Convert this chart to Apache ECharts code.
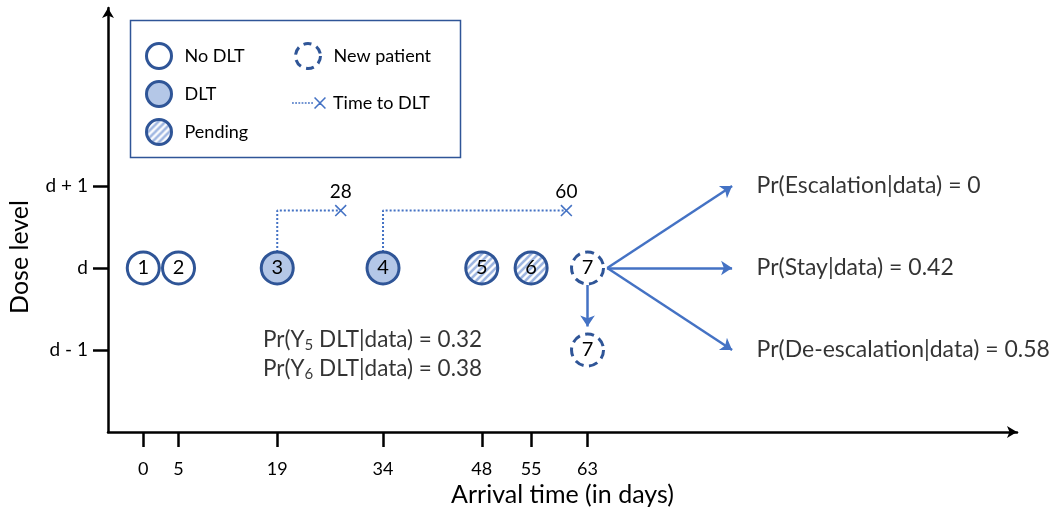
<!DOCTYPE html>
<html><head><meta charset="utf-8">
<script src="https://cdn.jsdelivr.net/npm/echarts@6/dist/echarts.min.js"></script>
<style>html,body{margin:0;padding:0;background:#fff}#c{width:1058px;height:514px}</style>
</head><body><div id="c"></div><script>
// ---- data ----
const patientIds = ['1', '2', '3', '4', '5', '6', '7'];
const arrivalDays = [0, 5, 19, 34, 48, 55, 63];
const patientStatus = ['No DLT', 'No DLT', 'DLT', 'DLT', 'Pending', 'Pending', 'New patient'];
const currentDose = 0;      // level "d"
const newPatientDose = -1;  // level "d - 1"
const dltPatientIdx = [2, 3];
const dltDays = [28, 60];
const doseTickValues = [-1, 0, 1];
const doseTickLabels = ['d - 1', 'd', 'd + 1'];
const arrivalTicks = [0, 5, 19, 34, 48, 55, 63];
const pendingPatients = ['5', '6'];
const pendingProbs = [0.32, 0.38];
const decisionNames = ['Escalation', 'Stay', 'De-escalation'];
const decisionProbs = [0, 0.42, 0.58];
const decisionDose = [1, 0, -1];

// ---- styles ----
const FONT = 'Lato';
const DARK = '#2F5597';
const BLUE = '#4472C4';
const CIRCLE = 32;
// diagonal stripe pattern for "Pending"
const stripe = document.createElement('canvas');
stripe.width = 7; stripe.height = 7;
(function () {
  const g = stripe.getContext('2d');
  g.fillStyle = '#fff'; g.fillRect(0, 0, 7, 7);
  g.strokeStyle = '#9DB5E1'; g.lineWidth = 2.6;
  [-7, 0, 7].forEach(o => { g.beginPath(); g.moveTo(-1 + o, 8); g.lineTo(8 + o, -1); g.stroke(); });
})();
// scatter symbols are drawn at unit size and scaled by symbolSize/2, so counter-scale the pattern
const symScale = 2 / CIRCLE;
const base = { borderColor: DARK, borderWidth: 3, opacity: 1 };
const statusStyle = {
  'No DLT': Object.assign({}, base, { color: '#fff' }),
  'DLT': Object.assign({}, base, { color: '#B4C7E7' }),
  'Pending': Object.assign({}, base, { color: { image: stripe, repeat: 'repeat', scaleX: symScale, scaleY: symScale } }),
  'New patient': Object.assign({}, base, { color: '#fff', borderType: [9, 5.5] })
};
const xPolys = (x0, s) => {
  const t = 1.1;
  const P = (a, b) => (x0 + a).toFixed(2) + ',' + b.toFixed(2);
  return 'M' + P(0, t) + 'L' + P(t, 0) + 'L' + P(s, s - t) + 'L' + P(s - t, s) + 'Z' +
         'M' + P(s - t, 0) + 'L' + P(s, t) + 'L' + P(t, s) + 'L' + P(0, s - t) + 'Z';
};
const X_SYMBOL = 'path://' + xPolys(0, 12);
let legendLinePath = '';
for (let x = 0; x < 21; x += 3.2) {
  legendLinePath += 'M' + x.toFixed(1) + ',5.2L' + (x + 1.8).toFixed(1) + ',5.2L' + (x + 1.8).toFixed(1) + ',6.8L' + x.toFixed(1) + ',6.8Z';
}
legendLinePath += xPolys(22, 12);

const series = [];
// time to DLT dotted connectors
dltPatientIdx.forEach((pi, k) => {
  const h = 0.7;
  series.push({
    type: 'line', name: 'Time to DLT', z: 1, symbol: 'none', silent: true,
    lineStyle: { color: BLUE, width: 2, type: [2, 2] },
    itemStyle: { color: BLUE, borderWidth: 0 },
    data: [
      [arrivalDays[pi], currentDose],
      [arrivalDays[pi], h],
      { value: [dltDays[k], h], symbol: X_SYMBOL, symbolSize: 12,
        label: { show: true, position: 'top', distance: 3, formatter: String(dltDays[k]),
                 fontSize: 19, color: '#000', fontFamily: FONT } }
    ]
  });
});
// patient circles
['No DLT', 'DLT', 'Pending', 'New patient'].forEach(s => {
  const data = [];
  patientIds.forEach((id, i) => { if (patientStatus[i] === s) data.push([arrivalDays[i], currentDose, id]); });
  if (s === 'New patient') data.push([arrivalDays[6], newPatientDose, patientIds[6]]);
  series.push({
    type: 'scatter', name: s, z: 5, symbol: 'circle', symbolSize: CIRCLE, silent: true,
    itemStyle: statusStyle[s],
    label: { show: true, position: 'inside', formatter: p => p.value[2], fontSize: 20, color: '#000', fontFamily: FONT },
    data: data
  });
});
// decision arrows
const arrowFrom = [65.8, currentDose];
series.push({
  type: 'lines', coordinateSystem: 'cartesian2d', z: 4, silent: true,
  symbol: ['none', 'arrow'], symbolSize: 11,
  lineStyle: { color: BLUE, width: 2.5, opacity: 1, curveness: 0 },
  data: decisionDose.map(v => ({ coords: [arrowFrom, [83.5, v]] }))
    .concat([{ coords: [[arrivalDays[6], -0.207], [arrivalDays[6], -0.713]] }])
});
// decision texts
series.push({
  type: 'scatter', z: 6, symbolSize: 1, silent: true, itemStyle: { color: 'rgba(0,0,0,0)' },
  label: { show: true, position: 'right', distance: 0, formatter: p => p.value[2], fontSize: 23, color: '#000', fontFamily: FONT },
  data: decisionDose.map((v, i) => [86.9, v,
    'Pr(' + decisionNames[i] + '|data) = ' + (decisionProbs[i] === 0 ? '0' : decisionProbs[i].toFixed(2))])
});
// pending probability texts
const pendingY = [-0.87, -1.23];
series.push({
  type: 'scatter', z: 6, symbolSize: 1, silent: true, itemStyle: { color: 'rgba(0,0,0,0)' },
  label: {
    show: true, position: 'right', distance: 0, formatter: p => p.value[2],
    fontSize: 22.5, lineHeight: 26, color: '#000', fontFamily: FONT,
    rich: { sub: { fontSize: 15, lineHeight: 15, verticalAlign: 'bottom', color: '#000', fontFamily: FONT } }
  },
  data: pendingPatients.map((id, i) => [16.9, pendingY[i],
    'Pr(Y{sub|' + id + '} DLT|data) = ' + pendingProbs[i].toFixed(2)])
});

const legendText = { fontSize: 18, color: '#000', fontFamily: FONT, padding: [0, 0, 0, 8] };
const option = {
  animation: false,
  grid: { left: 108, right: 41, top: 8, bottom: 82, outerBoundsMode: 'none' },
  legend: [
    { data: ['No DLT', 'DLT', { name: 'Pending', itemStyle: { color: { image: stripe, repeat: 'repeat' } } }],
      orient: 'vertical', left: 145, top: 42, padding: 0,
      itemWidth: 25, itemHeight: 25, itemGap: 10, itemStyle: { borderWidth: 3, borderColor: DARK }, textStyle: legendText },
    { data: ['New patient'], orient: 'vertical', left: 294, top: 42, padding: 0,
      itemWidth: 25, itemHeight: 25, itemStyle: { borderWidth: 3, borderColor: DARK, borderType: [8, 5.5] }, textStyle: legendText },
    { data: [{ name: 'Time to DLT', icon: 'path://' + legendLinePath, itemStyle: { color: BLUE, borderWidth: 0 } }],
      orient: 'vertical', left: 292, top: 94, padding: 0, itemWidth: 34, itemHeight: 12,
      textStyle: Object.assign({}, legendText, { padding: [0, 0, 0, 2] }) }
  ],
  xAxis: {
    type: 'value', min: -5, max: 123.9,
    name: 'Arrival time (in days)', nameLocation: 'middle', nameGap: 49,
    nameTextStyle: { fontSize: 25, color: '#000', fontFamily: FONT },
    axisLine: { show: true, onZero: false, symbol: ['none', 'arrow'], symbolSize: [9, 10], lineStyle: { color: '#000', width: 2.5 } },
    axisTick: { show: true, customValues: arrivalTicks, length: 15, lineStyle: { color: '#000', width: 2.5 } },
    axisLabel: { customValues: arrivalTicks, margin: 28, fontSize: 18, color: '#000', fontFamily: FONT },
    splitLine: { show: false }
  },
  yAxis: {
    type: 'value', min: -2, max: 3.17,
    axisLine: { show: true, onZero: false, symbol: ['none', 'arrow'], symbolSize: [9, 10], lineStyle: { color: '#000', width: 2.5 } },
    axisTick: { show: true, customValues: doseTickValues, length: 15, lineStyle: { color: '#000', width: 2.5 } },
    axisLabel: { customValues: doseTickValues, margin: 20, fontSize: 19, color: '#000', fontFamily: FONT,
      formatter: v => doseTickLabels[doseTickValues.indexOf(v)] },
    splitLine: { show: false }
  },
  graphic: [
    { type: 'rect', z: 0, silent: true, shape: { x: 130.5, y: 20.5, width: 330, height: 137 },
      style: { fill: 'none', stroke: DARK, lineWidth: 1.5 } },
    { type: 'text', silent: true, x: 20, y: 257, rotation: Math.PI / 2,
      style: { text: 'Dose level', fontSize: 25, fontFamily: FONT, fill: '#000', align: 'center', verticalAlign: 'middle' } }
  ],
  series: series
};
const chart = echarts.init(document.getElementById('c'), null, { renderer: 'canvas' });
chart.setOption(option);
</script></body></html>
